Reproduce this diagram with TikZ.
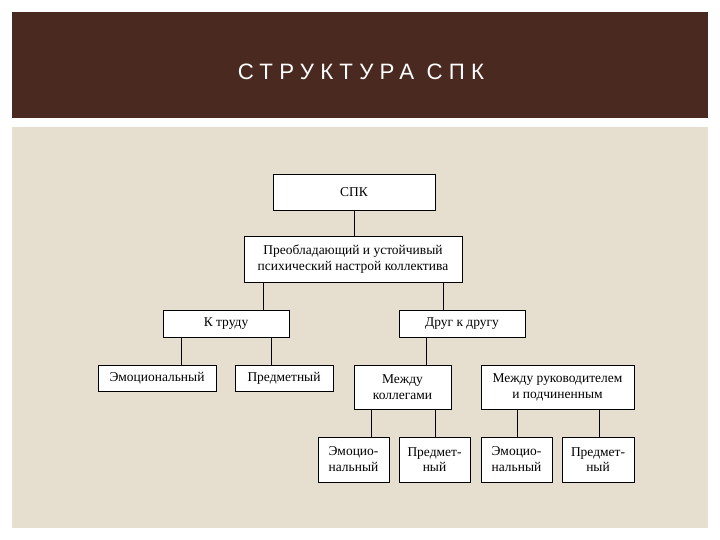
\documentclass[tikz,border=0pt]{standalone}
\usepackage{fontspec}
\setmainfont{Liberation Serif}
\newfontfamily\titlefont[LetterSpace=28]{Liberation Sans}
\definecolor{hdr}{HTML}{4A2A20}
\definecolor{bg}{HTML}{E6DFD0}
\begin{document}
\begin{tikzpicture}[x=0.03cm,y=-0.03cm,
  box/.style 2 args={draw=black,fill=white,line width=0.6pt,inner sep=0pt,align=center,
    minimum width=#1*0.03cm,minimum height=#2*0.03cm,font=\fontsize{11.5}{13.5}\selectfont},
  link/.style={draw=black,line width=0.6pt}]
\useasboundingbox (0,0) rectangle (720,540);
\fill[white] (0,0) rectangle (720,540);
\fill[hdr] (12,12) rectangle (708,118);
\fill[bg] (12,127) rectangle (708,528);
\node[text=white,font=\titlefont\fontsize{19}{22}\selectfont] (title) at (361,72) {СТРУКТУРА СПК};
\node[box={162}{36}] (spk) at (354,192) {СПК};
\node[box={218}{46}] (pre) at (353,259) {Преобладающий и устойчивый\\психический настрой коллектива};
\node[box={126}{27}] (kt) at (226,323.5) {К труду};
\node[box={126}{27}] (dk) at (462,323.5) {Друг к другу};
\node[box={118}{26}] (emo) at (157,378) {Эмоциональный};
\node[box={98}{26}] (pred) at (284,378) {Предметный};
\node[box={97}{44}] (mk) at (402.5,387) {Между\\коллегами};
\node[box={153}{44}] (mr) at (557.5,387) {Между руководителем\\и подчиненным};
\node[box={71}{45}] (b1) at (353.5,459.5) {Эмоцио-\\нальный};
\node[box={71}{45}] (b2) at (434.5,459.5) {Предмет-\\ный};
\node[box={71}{45}] (b3) at (516.5,459.5) {Эмоцио-\\нальный};
\node[box={72}{45}] (b4) at (598,459.5) {Предмет-\\ный};
\coordinate (c1) at (354,0);
\coordinate (c2) at (263,0);
\coordinate (c3) at (443,0);
\coordinate (c4) at (181,0);
\coordinate (c5) at (271,0);
\coordinate (c6) at (426,0);
\coordinate (c7) at (371,0);
\coordinate (c8) at (435,0);
\coordinate (c9) at (517,0);
\coordinate (c10) at (599,0);
\draw[link] (spk.south -| c1) -- (pre.north -| c1);
\draw[link] (pre.south -| c2) -- (kt.north -| c2);
\draw[link] (pre.south -| c3) -- (dk.north -| c3);
\draw[link] (kt.south -| c4) -- (emo.north -| c4);
\draw[link] (kt.south -| c5) -- (pred.north -| c5);
\draw[link] (dk.south -| c6) -- (mk.north -| c6);
\draw[link] (mk.south -| c7) -- (b1.north -| c7);
\draw[link] (mk.south -| c8) -- (b2.north -| c8);
\draw[link] (mr.south -| c9) -- (b3.north -| c9);
\draw[link] (mr.south -| c10) -- (b4.north -| c10);
\end{tikzpicture}
\end{document}
